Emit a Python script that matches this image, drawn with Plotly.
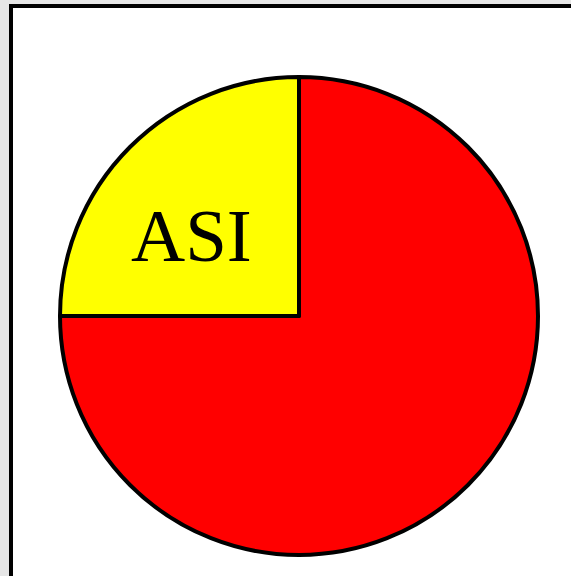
import plotly.graph_objects as go

labels = ["Other", "ASI"]
values = [75, 25]
colors = ["#ff0000", "#ffff00"]
shown_label = labels[1]

W, H = 571, 576
cx, cy, r = 299, 316, 239

fig = go.Figure(go.Pie(
    labels=labels,
    values=values,
    textinfo="none",
    sort=False,
    direction="clockwise",
    rotation=0,
    marker=dict(colors=colors, line=dict(color="black", width=4)),
    domain=dict(x=[(cx - r) / W, (cx + r) / W], y=[1 - (cy + r) / H, 1 - (cy - r) / H]),
    showlegend=False,
    hoverinfo="label+percent",
))

fig.update_layout(
    width=W, height=H,
    margin=dict(l=0, r=0, t=0, b=0),
    paper_bgcolor="#e6e6e6",
    shapes=[dict(type="rect", xref="paper", yref="paper", layer="below",
                 x0=11 / W, x1=1.2, y0=-0.2, y1=1 - 6 / H,
                 line=dict(color="black", width=4), fillcolor="white")],
    annotations=[dict(text=shown_label, xref="paper", yref="paper",
                      x=191.5 / W, y=1 - 235 / H, xanchor="center", yanchor="middle",
                      showarrow=False,
                      font=dict(family="Liberation Serif", size=75, color="black"))],
)

fig.write_html("out.html", config={"displayModeBar": False},
               post_script="document.body.style.margin='0px';")
